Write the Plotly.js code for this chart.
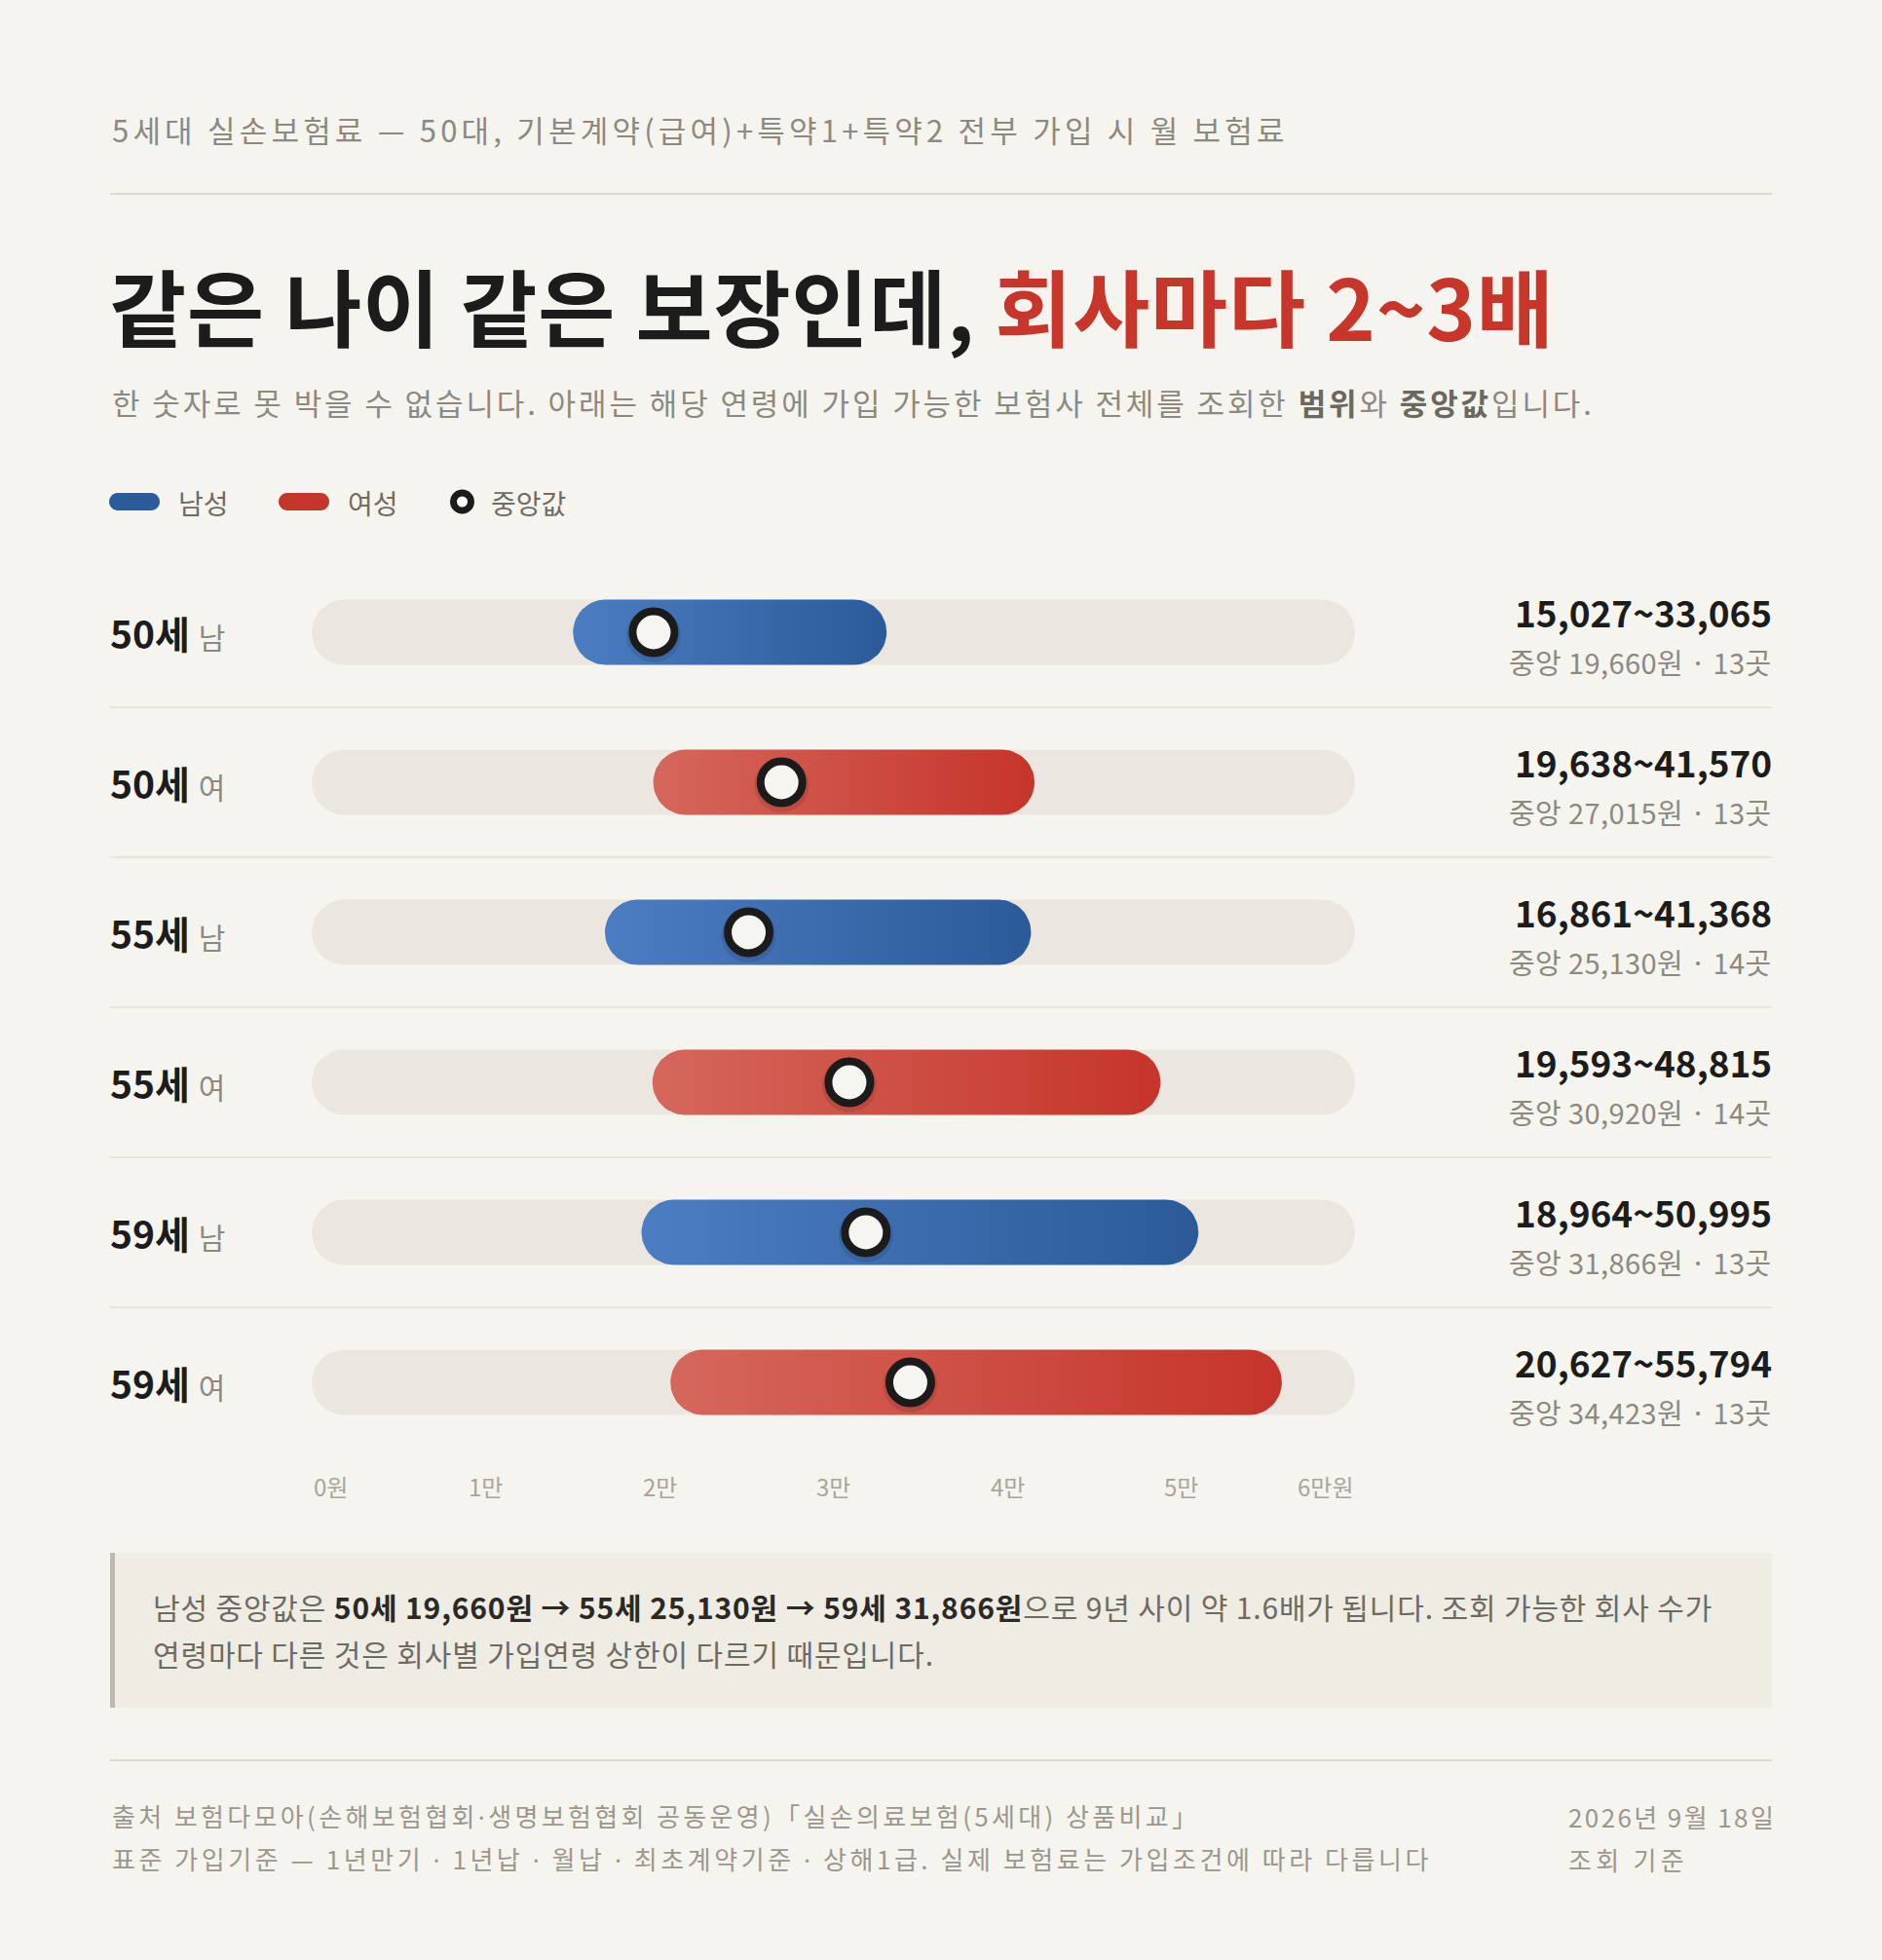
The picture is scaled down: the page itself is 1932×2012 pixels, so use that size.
<!DOCTYPE html>
<html>
<head>
<meta charset="utf-8">
<script src="https://cdn.plot.ly/plotly-3.0.1.min.js"></script>
<style>
  html, body { margin: 0; padding: 0; background: #f6f4ef; }
  #chart { width: 1932px; height: 2012px; }
</style>
</head>
<body>
<div id="chart"></div>
<script>
// ---------------- DATA ----------------
const ages    = ['50세', '50세', '55세', '55세', '59세', '59세'];
const sexes   = ['남', '여', '남', '여', '남', '여'];
const minimums = [15027, 19638, 16861, 19593, 18964, 20627];
const maximums = [33065, 41570, 41368, 48815, 50995, 55794];
const medians  = [19660, 27015, 25130, 30920, 31866, 34423];
const counts   = [13, 13, 14, 14, 13, 13];
const tickValues = [0, 10000, 20000, 30000, 40000, 50000, 60000];
const tickLabels = ['0원', '1만', '2만', '3만', '4만', '5만', '6만원'];
const axisMax = 60000;

// ---------------- LAYOUT HELPERS ----------------
const W = 1932, H = 2012;
const X = p => p / W;
const Y = p => 1 - p / H;
const FONT = "'Noto Sans CJK KR', 'Noto Sans', sans-serif";

const plotLeft = 320, plotRight = 1391;
const plotTop = 572, rowPx = 154;
const plotBottom = plotTop + rowPx * ages.length;
const pxPerX = (plotRight - plotLeft) / axisMax;
const barH = 67;

const fmt = v => v.toLocaleString('en-US');
const ls = (s, px) => '<span style="letter-spacing:' + px + 'px">' + s + '</span>';
const dot = s => s.split('·').join('<span style="font-family:\'Noto Sans\'">·</span>');

function stadium(lo, hi, yc) {
  const r = barH / 2;
  const rx = r / pxPerX, ry = r / rowPx;
  const xs = [], ys = [];
  const n = 28;
  for (let k = 0; k <= n; k++) {           // left arc
    const t = Math.PI / 2 + Math.PI * k / n;
    xs.push(lo + rx + rx * Math.cos(t));
    ys.push(yc + ry * Math.sin(t));
  }
  for (let k = 0; k <= n; k++) {           // right arc
    const t = -Math.PI / 2 + Math.PI * k / n;
    xs.push(hi - rx + rx * Math.cos(t));
    ys.push(yc + ry * Math.sin(t));
  }
  xs.push(xs[0]); ys.push(ys[0]);
  return { xs, ys };
}

const BLUE_SCALE = [[0, '#4c7dc2'], [1, '#2c5a99']];
const RED_SCALE  = [[0, '#d5675c'], [1, '#c6342a']];

const traces = [];
// tracks
ages.forEach((a, i) => {
  const s = stadium(0, axisMax, i);
  traces.push({
    type: 'scatter', mode: 'lines', x: s.xs, y: s.ys,
    fill: 'toself', fillcolor: '#ebe6df', line: { width: 0, color: 'rgba(0,0,0,0)' },
    hoverinfo: 'skip', showlegend: false
  });
});
// range bars
ages.forEach((a, i) => {
  const s = stadium(minimums[i], maximums[i], i);
  traces.push({
    type: 'scatter', mode: 'lines', x: s.xs, y: s.ys,
    fill: 'toself', fillcolor: sexes[i] === '남' ? '#3a6aac' : '#cd4a3f',
    fillgradient: { type: 'horizontal', colorscale: sexes[i] === '남' ? BLUE_SCALE : RED_SCALE },
    line: { width: 0, color: 'rgba(0,0,0,0)' },
    hoverinfo: 'skip', showlegend: false
  });
});
// median shadow
traces.push({
  type: 'scatter', mode: 'markers', x: medians, y: ages.map((a, i) => i + 3 / rowPx),
  marker: { size: 56, color: 'rgba(0,0,0,0.10)', line: { width: 0 } },
  hoverinfo: 'skip', showlegend: false, cliponaxis: false
});
// median markers
traces.push({
  type: 'scatter', mode: 'markers', x: medians, y: ages.map((a, i) => i),
  marker: { size: 43, color: '#f7f5f0', line: { width: 8, color: '#1b1b1b' } },
  hoverinfo: 'skip', showlegend: false, cliponaxis: false
});

// ---------------- ANNOTATIONS ----------------
const ann = [];
function txt(x, y, text, size, color, opts) {
  ann.push(Object.assign({
    x: X(x), y: Y(y), xref: 'paper', yref: 'paper', text: text, showarrow: false,
    xanchor: 'left', yanchor: 'middle', align: 'left',
    font: { family: FONT, size: size, color: color }
  }, opts || {}));
}

txt(113, 132, ls('5세대 실손보험료 — 50대, 기본계약(급여)+특약1+특약2 전부 가입 시 월 보험료', 4.2), 31, '#8c8981');
txt(110, 313, ls('<b>같은 나이 같은 보장인데, <span style="color:#c8352b">회사마다 2~3배</span></b>', 0.8), 86, '#1c1c1c');
txt(113, 412, ls('한 숫자로 못 박을 수 없습니다. 아래는 해당 연령에 가입 가능한 보험사 전체를 조회한 <b><span style="color:#6b6860">범위</span></b>와 <b><span style="color:#6b6860">중앙값</span></b>입니다.', 2.9), 31, '#8c8981');

txt(181, 516, '남성', 28, '#6f6c64');
txt(355, 516, '여성', 28, '#6f6c64');
txt(502, 516, '중앙값', 28, '#6f6c64');

// row labels & value labels
ages.forEach((a, i) => {
  ann.push({
    x: X(111), xref: 'paper', y: i, yref: 'y', showarrow: false,
    xanchor: 'left', yanchor: 'middle', align: 'left',
    text: '<b>' + a + '</b> <span style="font-size:30px;color:#8c8981">' + sexes[i] + '</span>',
    font: { family: FONT, size: 39, color: '#1c1c1c' }
  });
  ann.push({
    x: X(1821), xref: 'paper', y: i, yref: 'y', yshift: 21, showarrow: false,
    xanchor: 'right', yanchor: 'middle', align: 'right',
    text: '<b>' + fmt(minimums[i]) + '~' + fmt(maximums[i]) + '</b>',
    font: { family: FONT, size: 37, color: '#1c1c1c' }
  });
  ann.push({
    x: X(1821), xref: 'paper', y: i, yref: 'y', yshift: -30, showarrow: false,
    xanchor: 'right', yanchor: 'middle', align: 'right',
    text: ls('중앙 ' + fmt(medians[i]) + '원 · ' + counts[i] + '곳', 0.4),
    font: { family: FONT, size: 29, color: '#8c8981' }
  });
});

// axis tick labels
tickValues.forEach((v, k) => {
  ann.push({
    x: v, xref: 'x', y: Y(1525), yref: 'paper', showarrow: false,
    xanchor: k === 0 ? 'left' : (k === tickValues.length - 1 ? 'right' : 'center'),
    yanchor: 'middle', text: tickLabels[k],
    font: { family: FONT, size: 24, color: '#a9a59c' }
  });
});

// note box text
txt(155, 1649, ls('남성 중앙값은 <b><span style="color:#2a2926">50세 19,660원 → 55세 25,130원 → 59세 31,866원</span></b>으로 9년 사이 약 1.6배가 됩니다. 조회 가능한 회사 수가', 0.85), 30, '#6d6a62');
txt(155, 1697, ls('연령마다 다른 것은 회사별 가입연령 상한이 다르기 때문입니다.', 0.85), 30, '#6d6a62');

// footer
txt(113, 1864, ls(dot('출처 보험다모아(손해보험협회·생명보험협회 공동운영)「실손의료보험(5세대) 상품비교」'), 3.35), 26, '#9b978e');
txt(113, 1908, ls(dot('표준 가입기준 — 1년만기 · 1년납 · 월납 · 최초계약기준 · 상해1급. 실제 보험료는 가입조건에 따라 다릅니다'), 3.55), 26, '#9b978e');
txt(1608, 1864, ls('2026년 9월 18일', 2.4), 26, '#9b978e');
txt(1608, 1908, ls('조회 기준', 4.3), 26, '#9b978e');

// ---------------- SHAPES ----------------
const shapes = [];
function hline(y, color, w) {
  shapes.push({ type: 'line', xref: 'paper', yref: 'paper', x0: X(113), x1: X(1819), y0: Y(y), y1: Y(y),
    line: { color: color, width: w } });
}
hline(199, '#dedad2', 2);
hline(1807, '#dedad2', 2);
// row separators
for (let i = 0; i < ages.length - 1; i++) {
  shapes.push({ type: 'line', xref: 'paper', yref: 'y', x0: X(113), x1: X(1819), y0: i + 0.5, y1: i + 0.5,
    line: { color: '#e8e3dc', width: 2 } });
}
// legend pills
function pill(x0, x1, yc, h, color) {
  const r = h / 2, k = 0.5523 * r;
  const y0 = yc - r, y1 = yc + r;
  const P = (x, y) => X(x).toFixed(6) + ',' + Y(y).toFixed(6);
  const path = 'M' + P(x0 + r, y0) + ' L' + P(x1 - r, y0) +
    ' C' + P(x1 - r + k, y0) + ' ' + P(x1, yc - k) + ' ' + P(x1, yc) +
    ' C' + P(x1, yc + k) + ' ' + P(x1 - r + k, y1) + ' ' + P(x1 - r, y1) +
    ' L' + P(x0 + r, y1) +
    ' C' + P(x0 + r - k, y1) + ' ' + P(x0, yc + k) + ' ' + P(x0, yc) +
    ' C' + P(x0, yc - k) + ' ' + P(x0 + r - k, y0) + ' ' + P(x0 + r, y0) + ' Z';
  shapes.push({ type: 'path', xref: 'paper', yref: 'paper', path: path, fillcolor: color, line: { width: 0 } });
}
pill(112, 164, 515, 18, '#2c5b9b');
pill(286, 338, 515, 18, '#c6352b');
shapes.push({ type: 'circle', xref: 'paper', yref: 'paper', x0: X(465.5), x1: X(483.5), y0: Y(524), y1: Y(506),
  fillcolor: '#ffffff', line: { color: '#1b1b1b', width: 7 } });
// note box
shapes.push({ type: 'rect', xref: 'paper', yref: 'paper', x0: X(113), x1: X(1819), y0: Y(1753), y1: Y(1594),
  fillcolor: '#efece4', line: { width: 0 }, layer: 'below' });
shapes.push({ type: 'rect', xref: 'paper', yref: 'paper', x0: X(113), x1: X(118), y0: Y(1753), y1: Y(1594),
  fillcolor: '#bdb8ad', line: { width: 0 }, layer: 'below' });

const layout = {
  width: W, height: H, autosize: false,
  margin: { l: 0, r: 0, t: 0, b: 0, pad: 0 },
  paper_bgcolor: '#f6f4ef', plot_bgcolor: 'rgba(0,0,0,0)',
  showlegend: false,
  xaxis: { domain: [X(plotLeft), X(plotRight)], range: [0, axisMax], visible: false, fixedrange: true },
  yaxis: { domain: [Y(plotBottom), Y(plotTop)], range: [ages.length - 0.5, -0.5], visible: false, fixedrange: true },
  annotations: ann,
  shapes: shapes,
  font: { family: FONT }
};

Plotly.newPlot('chart', traces, layout, { staticPlot: true, displayModeBar: false });
</script>
</body>
</html>
